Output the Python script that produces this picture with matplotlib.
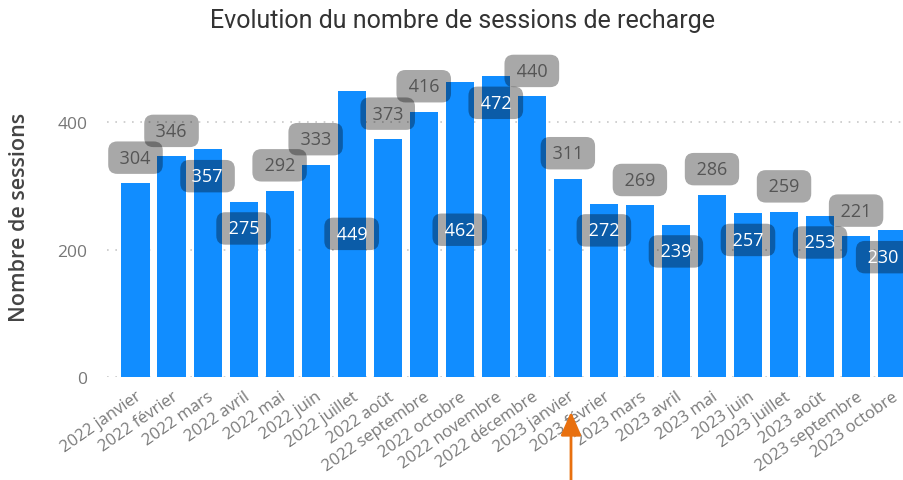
import matplotlib
matplotlib.use("Agg")
import matplotlib.pyplot as plt

# Données : sessions de recharge par mois
mois = ["2022 janvier", "2022 février", "2022 mars", "2022 avril", "2022 mai",
        "2022 juin", "2022 juillet", "2022 août", "2022 septembre", "2022 octobre",
        "2022 novembre", "2022 décembre", "2023 janvier", "2023 février",
        "2023 mars", "2023 avril", "2023 mai", "2023 juin", "2023 juillet",
        "2023 août", "2023 septembre", "2023 octobre"]
sessions = [304, 346, 357, 275, 292, 333, 449, 373, 416, 462, 472, 440,
            311, 272, 269, 239, 286, 257, 259, 253, 221, 230]
# emplacement des étiquettes (comme dans Power BI)
place = ["haut", "haut", "bas", "bas", "haut", "haut", "milieu", "haut", "haut",
         "milieu", "bas", "haut", "haut", "bas", "haut", "bas", "haut", "bas",
         "haut", "bas", "haut", "bas"]
yticks = [0, 200, 400]

bleu = "#118DFF"
police = "Open Sans"

fig = plt.figure(figsize=(9.04, 4.81), dpi=100)
ax = fig.add_axes([0.118, 0.214, 0.882, 0.663])

x = range(len(mois))
ax.bar(x, sessions, width=0.78, color=bleu, zorder=2)

xmax = 21.33
ax.set_xlim(-0.8, xmax)
ax.set_ylim(0, 500)
ax.set_yticks(yticks)
for y in yticks:
    ax.axhline(y, color="#c8c8c8", lw=1.2, ls=(0, (1, 4)), zorder=1)

for s in ax.spines.values():
    s.set_visible(False)
ax.tick_params(axis="both", length=0)
ax.tick_params(axis="x", pad=8)
ax.tick_params(axis="y", pad=14, labelsize=12.5, labelcolor="#777777")
ax.set_xticks(list(x))
ax.set_xticklabels(mois, rotation=35, ha="right", rotation_mode="anchor",
                   fontsize=12, color="#7a7a7a", family=police)
for t in ax.get_yticklabels():
    t.set_family(police)

# étiquettes de données
for i, v in enumerate(sessions):
    if place[i] == "haut":
        ypos, coul = v + 40, "#555555"
    elif place[i] == "bas":
        ypos, coul = v - 42, "white"
    else:
        ypos, coul = v / 2, "white"
    ax.text(min(i, xmax - 0.58), ypos, " %d " % v, ha="center", va="center",
            fontsize=13, color=coul, family=police, zorder=4,
            bbox=dict(boxstyle="round,pad=0.4,rounding_size=0.5",
                      fc=(0, 0, 0, 0.34), ec="none"))

fig.text(0.512, 0.956, "Evolution du nombre de sessions de recharge",
         ha="center", va="center", fontsize=18, color="#333333", family="Roboto")
fig.text(0.022, 0.547, "Nombre de sessions", rotation=90, ha="center",
         va="center", fontsize=15.5, color="#444444", family=police,
         weight="semibold")

# flèche orange
ax.annotate("", xy=(571 / 904, 71 / 481), xycoords="figure fraction",
            xytext=(571 / 904, -0.01), textcoords="figure fraction",
            arrowprops=dict(arrowstyle="-|>,head_length=0.8,head_width=0.35",
                            color="#E8700F", lw=2, mutation_scale=18),
            annotation_clip=False)

fig.savefig("out.png", dpi=100)
